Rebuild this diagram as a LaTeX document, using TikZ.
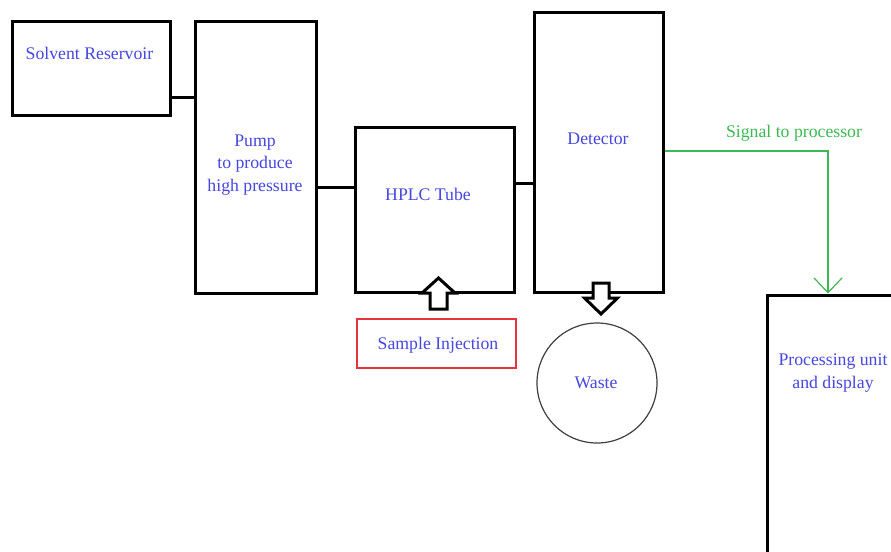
\documentclass[tikz,border=0pt]{standalone}
\usepackage{fontspec}
\setmainfont{Liberation Serif}
\usetikzlibrary{arrows.meta,positioning}
\definecolor{txtblue}{RGB}{70,70,225}
\definecolor{siggreen}{RGB}{60,185,80}
\definecolor{injred}{RGB}{230,50,60}

\begin{document}
\begin{tikzpicture}[x=0.75pt,y=-0.75pt,
  box/.style={draw,rectangle,line width=2.25pt,inner sep=0pt},
  txt/.style={text=txtblue,font=\fontsize{13.3}{16.8}\selectfont,align=center,inner sep=0pt},
  pipe/.style={line width=2.25pt},
  sig/.style={draw=siggreen,line width=0.9pt,-{Straight Barb[length=11pt,width=21pt]}},
  hollow/.style={draw,line width=2.25pt,fill=white,line join=miter}]
\useasboundingbox (0,0) rectangle (891,551);
\clip (0,0) rectangle (891,551);
\fill[white] (0,0) rectangle (891,551);
% the boxes
\node[box,minimum width=118.5pt,minimum height=70.5pt] (res) at (91.5,68) {};
\node[box,minimum width=90.4pt,minimum height=204pt] (pump) at (255.75,157) {};
\node[box,minimum width=119.6pt,minimum height=123.4pt] (tube) at (434.75,209.75) {};
\node[box,minimum width=96.4pt,minimum height=210pt] (det) at (598.75,152) {};
\node[box,minimum width=150pt,minimum height=225pt] (proc) at (867,445) {};
\node[draw=injred,line width=0.8pt,inner sep=0pt,minimum width=119.25pt,minimum height=36.75pt] (inj) at (436.5,343.5) {};
\node[draw=black!75,line width=0.9pt,circle,minimum size=90pt] (waste) at (597,383) {};
% the texts
\node[txt] (reslbl) at (89.5,53) {Solvent Reservoir};
\node[txt] (pumplbl) at (255,165) {Pump\\to produce\\high pressure};
\node[txt] (tubelbl) at (428,194) {HPLC Tube};
\node[txt] (detlbl) at (598,139) {Detector};
\node[txt] (proclbl) at (833,373) {Processing unit\\and display};
\node[txt,text=siggreen] (siglbl) at (794,133.5) {Signal to processor};
\node[txt] (injlbl) at (438,345) {Sample Injection};
\node[txt] (wastelbl) at (596,383) {Waste};
% the pipes
\draw[pipe] (res.east |- 0,97) -- (pump.west |- 0,97);
\draw[pipe] (pump.east |- 0,187) -- (tube.west |- 0,187);
\draw[pipe] (tube.east |- 0,183) -- (det.west |- 0,183);
% signal line
\coordinate (bend) at (828,151);
\draw[sig] (det.east |- bend) -- (bend) -- (bend |- proc.north);
% hollow arrows
\draw[hollow] (430,309) -- (430,293) -- (422,293) -- (438.5,278) -- (455,293) -- (447,293) -- (447,309) -- cycle;
\draw[hollow] (593,283) -- (609,283) -- (609,298) -- (617.5,298) -- (601,314) -- (584.5,298) -- (593,298) -- cycle;
\end{tikzpicture}
\end{document}
